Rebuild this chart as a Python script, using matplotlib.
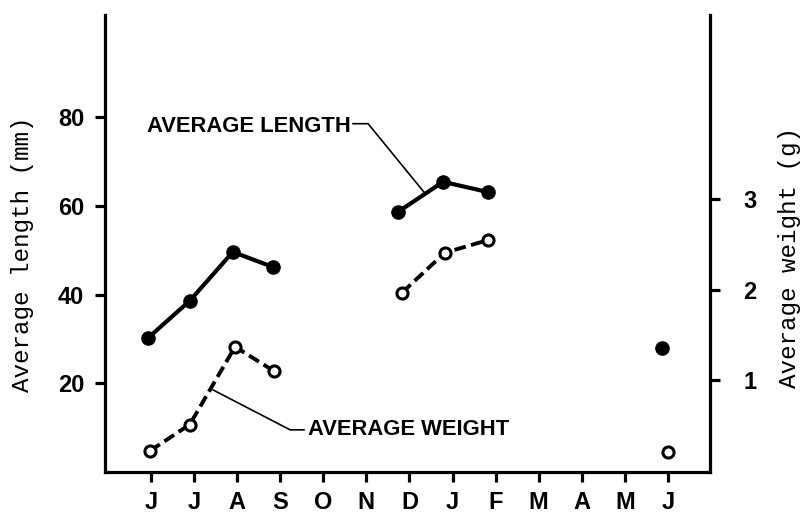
import matplotlib
matplotlib.use("Agg")
import matplotlib.pyplot as plt
import numpy as np

months = ["J", "J", "A", "S", "O", "N", "D", "J", "F", "M", "A", "M", "J"]

# sampling positions (month index) and values
len_x = [-0.07, 0.90, 1.90, 2.83, 5.73, 6.78, 7.82, 11.86]
len_y = [30.2, 38.6, 49.6, 46.2, 58.6, 65.4, 63.1, 28.0]
wt_x = [-0.02, 0.90, 1.95, 2.86, 5.83, 6.82, 7.82, 12.0]
wt_y = [0.22, 0.51, 1.37, 1.10, 1.97, 2.41, 2.55, 0.21]
# groups of connected points
groups = [(0, 4), (4, 7), (7, 8)]

left_ticks = [20, 40, 60, 80]
right_ticks = [1, 2, 3]

fig = plt.figure(figsize=(8.02, 5.17), dpi=100)
ax = fig.add_axes([105/802, 1-472/517, (710-105)/802, (472-15)/517])
ax2 = ax.twinx()

ax.set_xlim((105-151)/43.08, (710-151)/43.08)
ax.set_ylim(0, 103)
ax2.set_ylim(-0.015, 5.04)

tickfont = dict(family="Liberation Sans", weight="bold", size=17)
labfont = dict(family="Liberation Mono", size=17.5)

for a in (ax, ax2):
    a.spines["top"].set_visible(False)
    for s in ("left", "right", "bottom"):
        a.spines[s].set_linewidth(2.3)
ax.spines["right"].set_visible(False)
ax2.spines["left"].set_visible(False)
ax2.spines["bottom"].set_visible(False)

ax.set_xticks(range(len(months)))
ax.set_xticklabels(months, **tickfont)
ax.set_yticks(left_ticks)
ax.set_yticklabels([str(t) for t in left_ticks], **tickfont)
ax2.set_yticks(right_ticks)
ax2.set_yticklabels([str(t) for t in right_ticks], **tickfont)
ax.tick_params(axis="both", direction="out", length=7, width=2.3, pad=8)
ax.tick_params(axis="x", pad=7)
ax2.tick_params(axis="y", direction="out", length=7, width=2.3, pad=17)

ax.set_ylabel("Average length (mm)", **labfont)
ax2.set_ylabel("Average weight (g)", **labfont)
ax.yaxis.set_label_coords(-0.117, 0.477)
ax2.yaxis.set_label_coords(1.112, 0.47)

for s, e in groups:
    ax.plot(len_x[s:e], len_y[s:e], color="black", lw=3.0, marker="o",
            markersize=9.5, markerfacecolor="black", markeredgecolor="black",
            solid_capstyle="butt", zorder=3)
    ax2.plot(wt_x[s:e], wt_y[s:e], color="black", lw=2.8, linestyle=(0, (3, 1.4)),
             marker="o", markersize=8, markerfacecolor="white",
             markeredgecolor="black", markeredgewidth=2.2, zorder=3)

# annotations
ax.text(-0.09, 77.8, "AVERAGE LENGTH", ha="left", va="center",
        family="Liberation Sans", weight="bold", size=15.8)
ax.plot([4.69, 5.04, 6.36], [78.5, 78.5, 62.8], color="black", lw=1.2)

ax.text(3.64, 9.6, "AVERAGE WEIGHT", ha="left", va="center",
        family="Liberation Sans", weight="bold", size=15.8)
ax.plot([3.55, 3.23, 1.44], [9.5, 9.5, 18.5], color="black", lw=1.2)

fig.savefig("out.png", dpi=100)
